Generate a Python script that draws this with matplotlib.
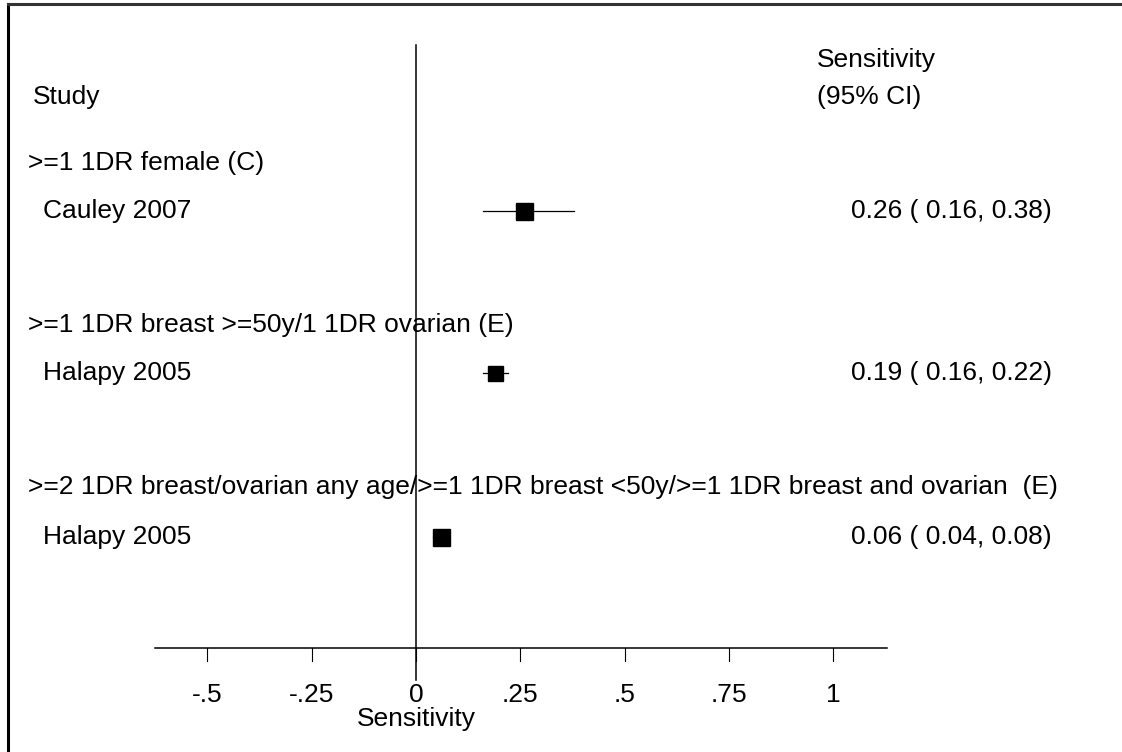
import matplotlib.pyplot as plt
from matplotlib.lines import Line2D

plt.rcParams['font.family'] = ['Liberation Sans', 'DejaVu Sans']

# ---- data ----
groups = [
    '>=1 1DR female (C)',
    '>=1 1DR breast >=50y/1 1DR ovarian (E)',
    '>=2 1DR breast/ovarian any age/>=1 1DR breast <50y/>=1 1DR breast and ovarian  (E)',
]
studies = ['Cauley 2007', 'Halapy 2005', 'Halapy 2005']
sens = [0.26, 0.19, 0.06]
ci_low = [0.16, 0.16, 0.04]
ci_high = [0.38, 0.22, 0.08]
tick_vals = [-0.5, -0.25, 0, 0.25, 0.5, 0.75, 1]
tick_labels = ['-.5', '-.25', '0', '.25', '.5', '.75', '1']

# ---- layout (pixels, y measured from the top) ----
W, H = 1122, 752
zero_px = 416
unit_px = 417
head_y = [163, 325, 487]
study_y = [211, 373, 537]
box_px = [17, 15, 17]
axis_y = 648
fs = 19

fig = plt.figure(figsize=(W / 100, H / 100), dpi=100)
ax = fig.add_axes([0, 0, 1, 1])
ax.set_xlim(-zero_px / unit_px, (W - zero_px) / unit_px)
ax.set_ylim(H, 0)
ax.axis('off')


def px(x):
    # pixel column -> data x
    return (x - zero_px) / unit_px


# frame (left and top edges)
ax.add_line(Line2D([px(8), px(8)], [4, H], color='black', lw=2.2))
ax.add_line(Line2D([px(8), px(W)], [4, 4], color='#333333', lw=2.2))

# header
ax.text(px(33), 97, 'Study', fontsize=fs, va='center', ha='left')
ax.text(px(817), 60, 'Sensitivity', fontsize=fs, va='center', ha='left')
ax.text(px(817), 97, '(95% CI)', fontsize=fs, va='center', ha='left')

# vertical line at zero
ax.plot([0, 0], [45, 680], color='black', lw=1.1)

for i in range(len(studies)):
    ax.text(px(28), head_y[i], groups[i], fontsize=fs, va='center', ha='left')
    ax.text(px(43), study_y[i], studies[i], fontsize=fs, va='center', ha='left')
    ax.plot([ci_low[i], ci_high[i]], [study_y[i], study_y[i]], color='black', lw=0.9)
    ax.plot(sens[i], study_y[i], marker='s', color='black',
            markersize=box_px[i] * 0.72, linestyle='none')
    ax.text(px(1052), study_y[i],
            f'{sens[i]:.2f} ( {ci_low[i]:.2f}, {ci_high[i]:.2f})',
            fontsize=fs, va='center', ha='right')

# x axis
ax.plot([px(155), px(887)], [axis_y, axis_y], color='black', lw=1.1)
for v, lab in zip(tick_vals, tick_labels):
    ax.plot([v, v], [axis_y, axis_y + 13], color='black', lw=0.8)
    ax.text(v, 695, lab, fontsize=fs, va='center', ha='center')
ax.text(0, 719, 'Sensitivity', fontsize=fs, va='center', ha='center')

fig.savefig('out.png', dpi=100)
